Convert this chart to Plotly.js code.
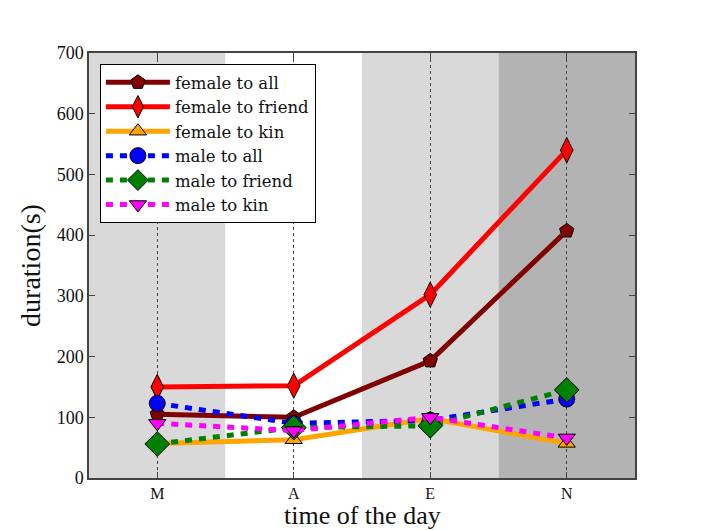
<!DOCTYPE html>
<html>
<head>
<meta charset="utf-8">
<script src="https://cdn.plot.ly/plotly-3.0.1.min.js"></script>
<style>body{margin:0;} #myDiv{width:706px;height:530px;}</style>
</head>
<body>
<div id="myDiv"></div>
<script>
var periods = ['M', 'A', 'E', 'N'];
var femaleAll = [105, 100, 193, 407];
var femaleFriend = [150, 152, 302, 540];
var femaleKin = [57, 63, 98, 57];
var maleAll = [123, 90, 95, 130];
var maleFriend = [56, 83, 86, 145];
var maleKin = [90, 78, 100, 66];
var bandColors = ['#d9d9d9', '#ffffff', '#d9d9d9', '#b3b3b3'];

var serif = 'Liberation Serif, Times New Roman, serif';
var wideSerif = 'DejaVu Serif, serif';

function series(name, y, color, symbol, size, dash){
    return {
        x: periods, y: y, name: name, type: 'scatter', mode: 'lines+markers',
        line: {color: color, width: 5, dash: dash},
        marker: {symbol: symbol, size: size, color: color, line: {color: '#000', width: 1}}
    };
}

var gData = [
    series('female to all', femaleAll, '#800000', 'pentagon', 15, 'solid'),
    series('female to friend', femaleFriend, '#ff0000', 'diamond-tall', 18, 'solid'),
    series('female to kin', femaleKin, '#ffa500', 'triangle-up', 15, 'solid'),
    series('male to all', maleAll, '#0000ff', 'circle', 16, '7px,7px'),
    series('male to friend', maleFriend, '#008000', 'diamond', 19, '7px,7px'),
    series('male to kin', maleKin, '#ff00ff', 'triangle-down', 15, '7px,7px')
];

var shapes = [];
for (var i = 0; i < periods.length; i++) {
    shapes.push({
        type: 'rect', xref: 'x', yref: 'paper', layer: 'below',
        x0: i - 0.5, x1: i + 0.5, y0: 0, y1: 1,
        fillcolor: bandColors[i], line: {width: 0}
    });
}

var layout = {
    width: 706, height: 530,
    margin: {l: 89, r: 71, t: 53, b: 52},
    paper_bgcolor: '#ffffff', plot_bgcolor: '#ffffff',
    font: {family: serif, color: '#111'},
    showlegend: true,
    legend: {
        x: 0.02, y: 0.974, xanchor: 'left', yanchor: 'top',
        bgcolor: '#ffffff', bordercolor: '#000', borderwidth: 1,
        font: {family: wideSerif, size: 16.5, color: '#111'},
        tracegroupgap: 0, itemwidth: 64
    },
    shapes: shapes,
    annotations: [{
        text: 'time of the day', xref: 'paper', yref: 'paper',
        x: 0.5, y: 0, yshift: -37, xanchor: 'center', yanchor: 'middle',
        showarrow: false, font: {family: serif, size: 26, color: '#111'}
    }],
    xaxis: {
        type: 'category', range: [-0.5, 3.5],
        showline: true, linecolor: '#444', linewidth: 1.5, mirror: 'ticks',
        ticks: 'inside', ticklen: 6, tickcolor: '#444',
        showgrid: true, gridcolor: '#444', griddash: 'dot', gridwidth: 0.8,
        tickfont: {family: serif, size: 16, color: '#111'}
    },
    yaxis: {
        range: [0, 700], dtick: 100,
        showline: true, linecolor: '#444', linewidth: 1.5, mirror: 'ticks',
        ticks: 'inside', ticklen: 6, tickcolor: '#444',
        showgrid: false, zeroline: false,
        tickfont: {family: serif, size: 18, color: '#111'},
        title: {text: 'duration(s)', font: {family: serif, size: 28, color: '#111'}, standoff: 8}
    }
};

Plotly.newPlot('myDiv', gData, layout, {displayModeBar: false});
</script>
</body>
</html>
